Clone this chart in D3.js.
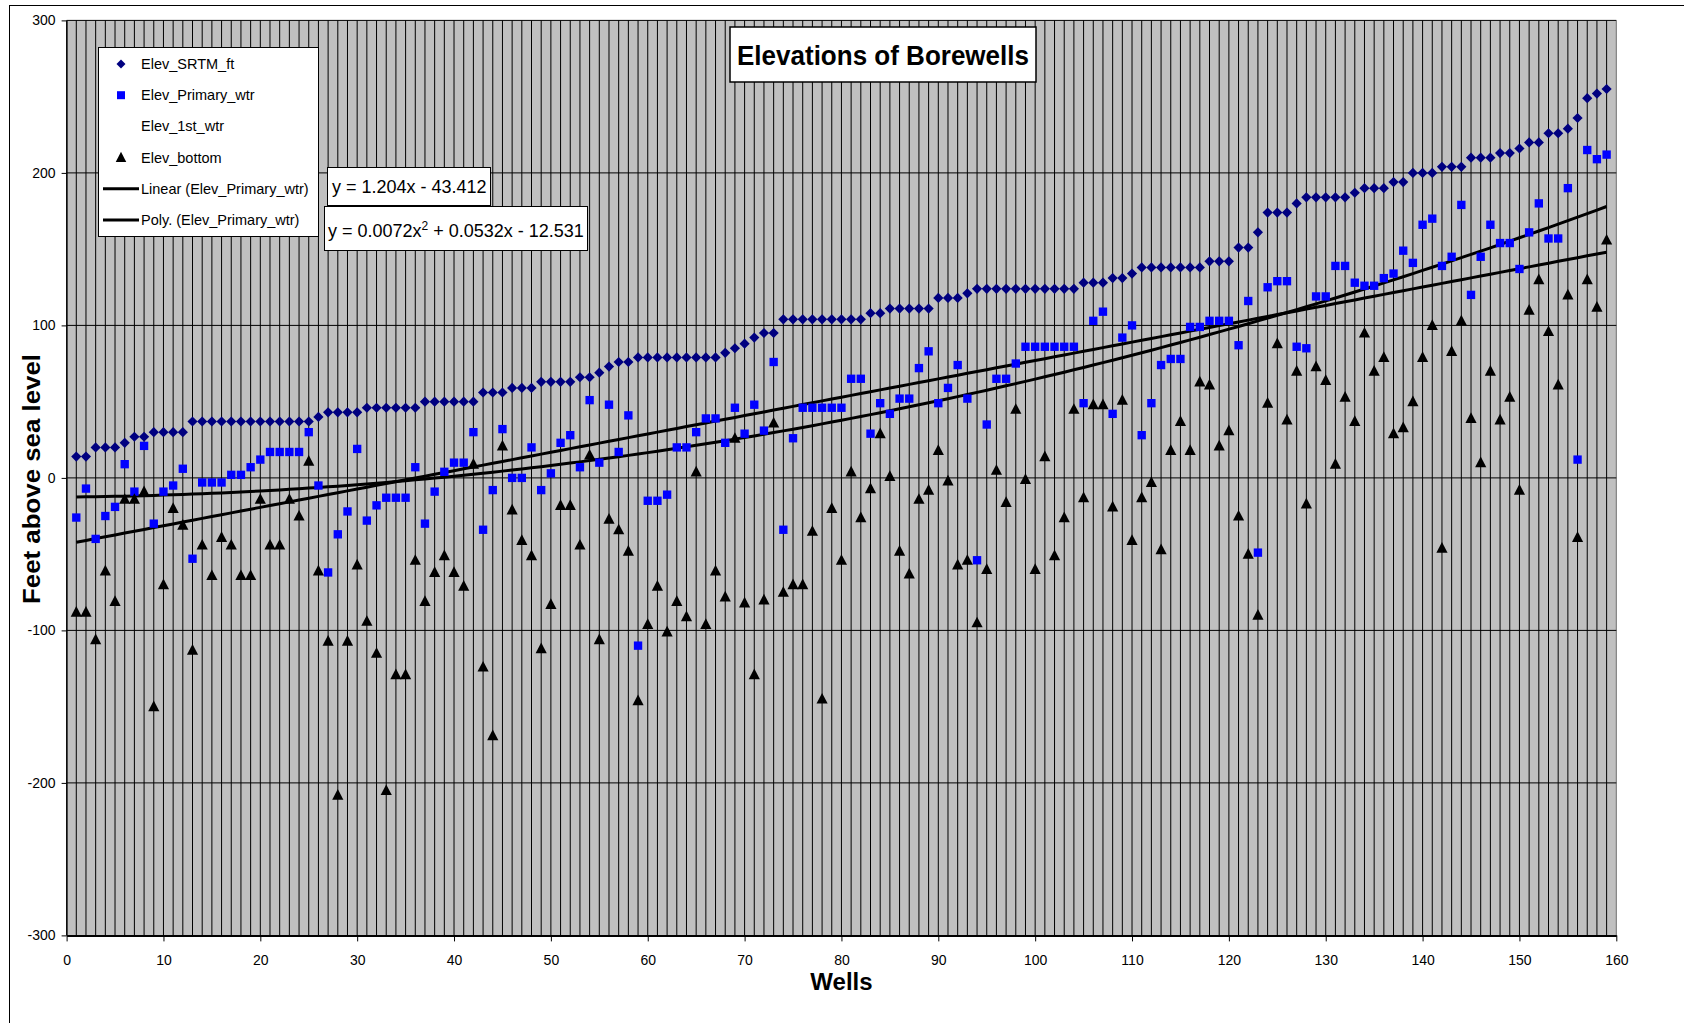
<!DOCTYPE html>
<html>
<head>
<meta charset="utf-8" />
<title>Elevations of Borewells</title>
<script src="https://cdn.jsdelivr.net/npm/d3@7"></script>
<style>
	body { margin: 0; background: #fff; }
	svg { display: block; }
	.narrow { font-family: "Liberation Sans Narrow", "Arial Narrow", "Liberation Sans", sans-serif; }
	.sans { font-family: "Liberation Sans", Arial, sans-serif; }
</style>
</head>
<body>
<div id="chart"></div>
<script>
	// values, well 1..159
	const elevSrtm = [14, 14, 20, 20, 20, 23, 27, 27, 30, 30,
		30, 30, 37, 37, 37, 37, 37, 37, 37, 37,
		37, 37, 37, 37, 37, 40, 43, 43, 43, 43,
		46, 46, 46, 46, 46, 46, 50, 50, 50, 50,
		50, 50, 56, 56, 56, 59, 59, 59, 63, 63,
		63, 63, 66, 66, 69, 73, 76, 76, 79, 79,
		79, 79, 79, 79, 79, 79, 79, 82, 85, 88,
		92, 95, 95, 104, 104, 104, 104, 104, 104, 104,
		104, 104, 108, 108, 111, 111, 111, 111, 111, 118,
		118, 118, 121, 124, 124, 124, 124, 124, 124, 124,
		124, 124, 124, 124, 128, 128, 128, 131, 131, 134,
		138, 138, 138, 138, 138, 138, 138, 142, 142, 142,
		151, 151, 161, 174, 174, 174, 180, 184, 184, 184,
		184, 184, 187, 190, 190, 190, 194, 194, 200, 200,
		200, 204, 204, 204, 210, 210, 210, 213, 213, 216,
		220, 220, 226, 226, 229, 236, 249, 252, 255];

	const elevPrimary = [-26, -7, -40, -25, -19, 9, -9, 21, -30, -9,
		-5, 6, -53, -3, -3, -3, 2, 2, 7, 12,
		17, 17, 17, 17, 30, -5, -62, -37, -22, 19,
		-28, -18, -13, -13, -13, 7, -30, -9, 4, 10,
		10, 30, -34, -8, 32, 0, 0, 20, -8, 3,
		23, 28, 7, 51, 10, 48, 17, 41, -110, -15,
		-15, -11, 20, 20, 30, 39, 39, 23, 46, 29,
		48, 31, 76, -34, 26, 46, 46, 46, 46, 46,
		65, 65, 29, 49, 42, 52, 52, 72, 83, 49,
		59, 74, 52, -54, 35, 65, 65, 75, 86, 86,
		86, 86, 86, 86, 49, 103, 109, 42, 92, 100,
		28, 49, 74, 78, 78, 99, 99, 103, 103, 103,
		87, 116, -49, 125, 129, 129, 86, 85, 119, 119,
		139, 139, 128, 126, 126, 131, 134, 149, 141, 166,
		170, 139, 145, 179, 120, 145, 166, 154, 154, 137,
		161, 180, 157, 157, 190, 12, 215, 209, 212];

	const elevBottom = [-88, -88, -106, -61, -81, -14, -14, -9, -150, -70,
		-20, -31, -113, -44, -64, -39, -44, -64, -64, -14,
		-44, -44, -14, -25, 11, -61, -107, -208, -107, -57,
		-94, -115, -205, -129, -129, -54, -81, -62, -51, -62,
		-71, 9, -124, -169, 21, -21, -41, -51, -112, -83,
		-18, -18, -44, 15, -106, -27, -34, -48, -146, -96,
		-71, -101, -81, -91, 4, -96, -61, -78, 26, -82,
		-129, -80, 36, -75, -70, -70, -35, -145, -20, -54,
		4, -26, -7, 29, 1, -48, -63, -14, -8, 18,
		-2, -57, -54, -95, -60, 5, -16, 45, -1, -60,
		14, -51, -26, 45, -13, 48, 48, -19, 51, -41,
		-13, -3, -47, 18, 37, 18, 63, 61, 21, 31,
		-25, -50, -90, 49, 88, 38, 70, -17, 73, 64,
		9, 53, 37, 95, 70, 79, 29, 33, 50, 79,
		100, -46, 83, 103, 39, 10, 70, 38, 53, -8,
		110, 130, 96, 61, 120, -39, 130, 112, 156];

	const wells = elevSrtm.map((d, i) => i + 1);
	const xTicks = [0, 10, 20, 30, 40, 50, 60, 70, 80, 90, 100, 110, 120, 130, 140, 150, 160];
	const yTicks = [-300, -200, -100, 0, 100, 200, 300];

	// trendline coefficients as printed on the chart
	const linearCoef = [1.204, -43.412];
	const polyCoef = [0.0072, 0.0532, -12.531];

	const width = 1684, height = 1023;
	const plot = { left: 66.6, right: 1616.3, top: 20.4, bottom: 935.4 };

	const svg = d3.select('#chart').append('svg')
		.attr('width', width)
		.attr('height', height);

	const x = d3.scaleLinear().domain([0, 160]).range([plot.left, plot.right]);
	const y = d3.scaleLinear().domain([-300, 300]).range([plot.bottom, plot.top]);

	// outer chart border (right and bottom fall outside the window)
	svg.append('rect')
		.attr('x', 9.5).attr('y', 5.5)
		.attr('width', width + 20).attr('height', height + 20)
		.attr('fill', '#fff').attr('stroke', '#000').attr('stroke-width', 1);

	svg.append('rect')
		.attr('x', plot.left).attr('y', plot.top)
		.attr('width', plot.right - plot.left).attr('height', plot.bottom - plot.top)
		.attr('fill', '#c0c0c0');

	// one vertical gridline per well
	svg.append('g').selectAll('line')
		.data(d3.range(0, 161))
		.join('line')
		.attr('x1', d => x(d)).attr('x2', d => x(d))
		.attr('y1', plot.top).attr('y2', plot.bottom)
		.attr('stroke', d => d === 160 ? '#707070' : '#000')
		.attr('stroke-width', 1);

	svg.append('g').selectAll('line')
		.data(yTicks.filter(d => d > -300))
		.join('line')
		.attr('x1', plot.left).attr('x2', plot.right)
		.attr('y1', d => y(d)).attr('y2', d => y(d))
		.attr('stroke', '#000')
		.attr('stroke-width', 1);

	// axes
	const xAxis = svg.append('g')
		.attr('transform', `translate(0,${plot.bottom})`)
		.call(d3.axisBottom(x).tickValues(xTicks).tickSize(6).tickSizeOuter(0).tickPadding(14));
	xAxis.select('.domain').attr('stroke', '#000').attr('stroke-width', 2);
	xAxis.selectAll('text').attr('class', 'narrow').attr('font-size', 14).attr('fill', '#000');

	const yAxis = svg.append('g')
		.attr('transform', `translate(${plot.left},0)`)
		.call(d3.axisLeft(y).tickValues(yTicks).tickFormat(d => String(d)).tickSize(5).tickSizeOuter(0).tickPadding(6));
	yAxis.select('.domain').attr('stroke', '#000').attr('stroke-width', 1);
	yAxis.selectAll('text').attr('class', 'narrow').attr('font-size', 14).attr('fill', '#000');

	svg.append('text')
		.attr('class', 'narrow')
		.attr('x', x(80)).attr('y', 990)
		.attr('text-anchor', 'middle')
		.attr('font-size', 24).attr('font-weight', 'bold')
		.text('Wells');

	svg.append('text')
		.attr('class', 'sans')
		.attr('transform', `translate(40,479) rotate(-90)`)
		.attr('text-anchor', 'middle')
		.attr('font-size', 23).attr('font-weight', 'bold')
		.attr('textLength', 250).attr('lengthAdjust', 'spacingAndGlyphs')
		.text('Feet above sea level');

	// trendlines
	const trendLine = d3.line().x(d => x(d[0])).y(d => y(d[1]));
	const linearPts = wells.map(w => [w, linearCoef[0] * w + linearCoef[1]]);
	const polyPts = wells.map(w => [w, polyCoef[0] * w * w + polyCoef[1] * w + polyCoef[2]]);

	svg.append('path').datum(linearPts)
		.attr('d', trendLine).attr('fill', 'none')
		.attr('stroke', '#000').attr('stroke-width', 3);
	svg.append('path').datum(polyPts)
		.attr('d', trendLine).attr('fill', 'none')
		.attr('stroke', '#000').attr('stroke-width', 3);

	// markers
	const wideTriangle = {
		draw(context, size) {
			const h = Math.sqrt(size) * 0.78;
			context.moveTo(0, -h * 0.6);
			context.lineTo(h * 0.55, h * 0.45);
			context.lineTo(-h * 0.55, h * 0.45);
			context.closePath();
		}
	};
	const diamond = d3.symbol().type(d3.symbolSquare).size(52);
	const square = d3.symbol().type(d3.symbolSquare).size(70);
	const triangle = d3.symbol().type(wideTriangle).size(170);

	svg.append('g').selectAll('path')
		.data(wells)
		.join('path')
		.attr('d', diamond)
		.attr('transform', (w, i) => `translate(${x(w)},${y(elevSrtm[i])}) rotate(45)`)
		.attr('fill', '#000080');

	svg.append('g').selectAll('path')
		.data(wells)
		.join('path')
		.attr('d', square)
		.attr('transform', (w, i) => `translate(${x(w)},${y(elevPrimary[i])})`)
		.attr('fill', '#0000ff');

	svg.append('g').selectAll('path')
		.data(wells)
		.join('path')
		.attr('d', triangle)
		.attr('transform', (w, i) => `translate(${x(w)},${y(elevBottom[i])})`)
		.attr('fill', '#000');

	// title box
	svg.append('rect')
		.attr('x', 730).attr('y', 27).attr('width', 306).attr('height', 55)
		.attr('fill', '#fff').attr('stroke', '#000').attr('stroke-width', 1.5);
	svg.append('text')
		.attr('class', 'sans')
		.attr('x', 883).attr('y', 65)
		.attr('text-anchor', 'middle')
		.attr('font-size', 28).attr('font-weight', 'bold')
		.attr('textLength', 292).attr('lengthAdjust', 'spacingAndGlyphs')
		.text('Elevations of Borewells');

	// legend
	const legend = svg.append('g');
	legend.append('rect')
		.attr('x', 98.5).attr('y', 47.5).attr('width', 220).attr('height', 189)
		.attr('fill', '#fff').attr('stroke', '#000').attr('stroke-width', 1);

	const legendItems = [
		{ label: 'Elev_SRTM_ft', mark: 'diamond' },
		{ label: 'Elev_Primary_wtr', mark: 'square' },
		{ label: 'Elev_1st_wtr', mark: 'none' },
		{ label: 'Elev_bottom', mark: 'triangle' },
		{ label: 'Linear (Elev_Primary_wtr)', mark: 'line' },
		{ label: 'Poly. (Elev_Primary_wtr)', mark: 'line' }
	];

	legendItems.forEach((item, i) => {
		const ly = 64 + i * 31.2;
		if (item.mark === 'diamond') {
			legend.append('path').attr('d', d3.symbol().type(d3.symbolSquare).size(40))
				.attr('transform', `translate(121,${ly}) rotate(45)`).attr('fill', '#000080');
		} else if (item.mark === 'square') {
			legend.append('path').attr('d', d3.symbol().type(d3.symbolSquare).size(64))
				.attr('transform', `translate(121,${ly})`).attr('fill', '#0000ff');
		} else if (item.mark === 'triangle') {
			legend.append('path').attr('d', d3.symbol().type(wideTriangle).size(150))
				.attr('transform', `translate(121,${ly})`).attr('fill', '#000');
		} else if (item.mark === 'line') {
			legend.append('line').attr('x1', 103).attr('x2', 139)
				.attr('y1', ly).attr('y2', ly)
				.attr('stroke', '#000').attr('stroke-width', 3);
		}
		legend.append('text')
			.attr('class', 'sans')
			.attr('x', 141).attr('y', ly + 5)
			.attr('font-size', 14.5)
			.text(item.label);
	});

	// trendline equations
	svg.append('rect')
		.attr('x', 327.5).attr('y', 167.5).attr('width', 163).attr('height', 38)
		.attr('fill', '#fff').attr('stroke', '#000').attr('stroke-width', 1);
	svg.append('text')
		.attr('class', 'sans')
		.attr('x', 332).attr('y', 193)
		.attr('font-size', 18)
		.text('y = 1.204x - 43.412');

	svg.append('rect')
		.attr('x', 324.5).attr('y', 206.5).attr('width', 263).attr('height', 44)
		.attr('fill', '#fff').attr('stroke', '#000').attr('stroke-width', 1);
	const eq2 = svg.append('text')
		.attr('class', 'sans')
		.attr('x', 328).attr('y', 237)
		.attr('font-size', 18);
	eq2.append('tspan').text('y = 0.0072x');
	eq2.append('tspan').attr('dy', -7).attr('font-size', 12).text('2');
	eq2.append('tspan').attr('dy', 7).text(' + 0.0532x - 12.531');
</script>
</body>
</html>
